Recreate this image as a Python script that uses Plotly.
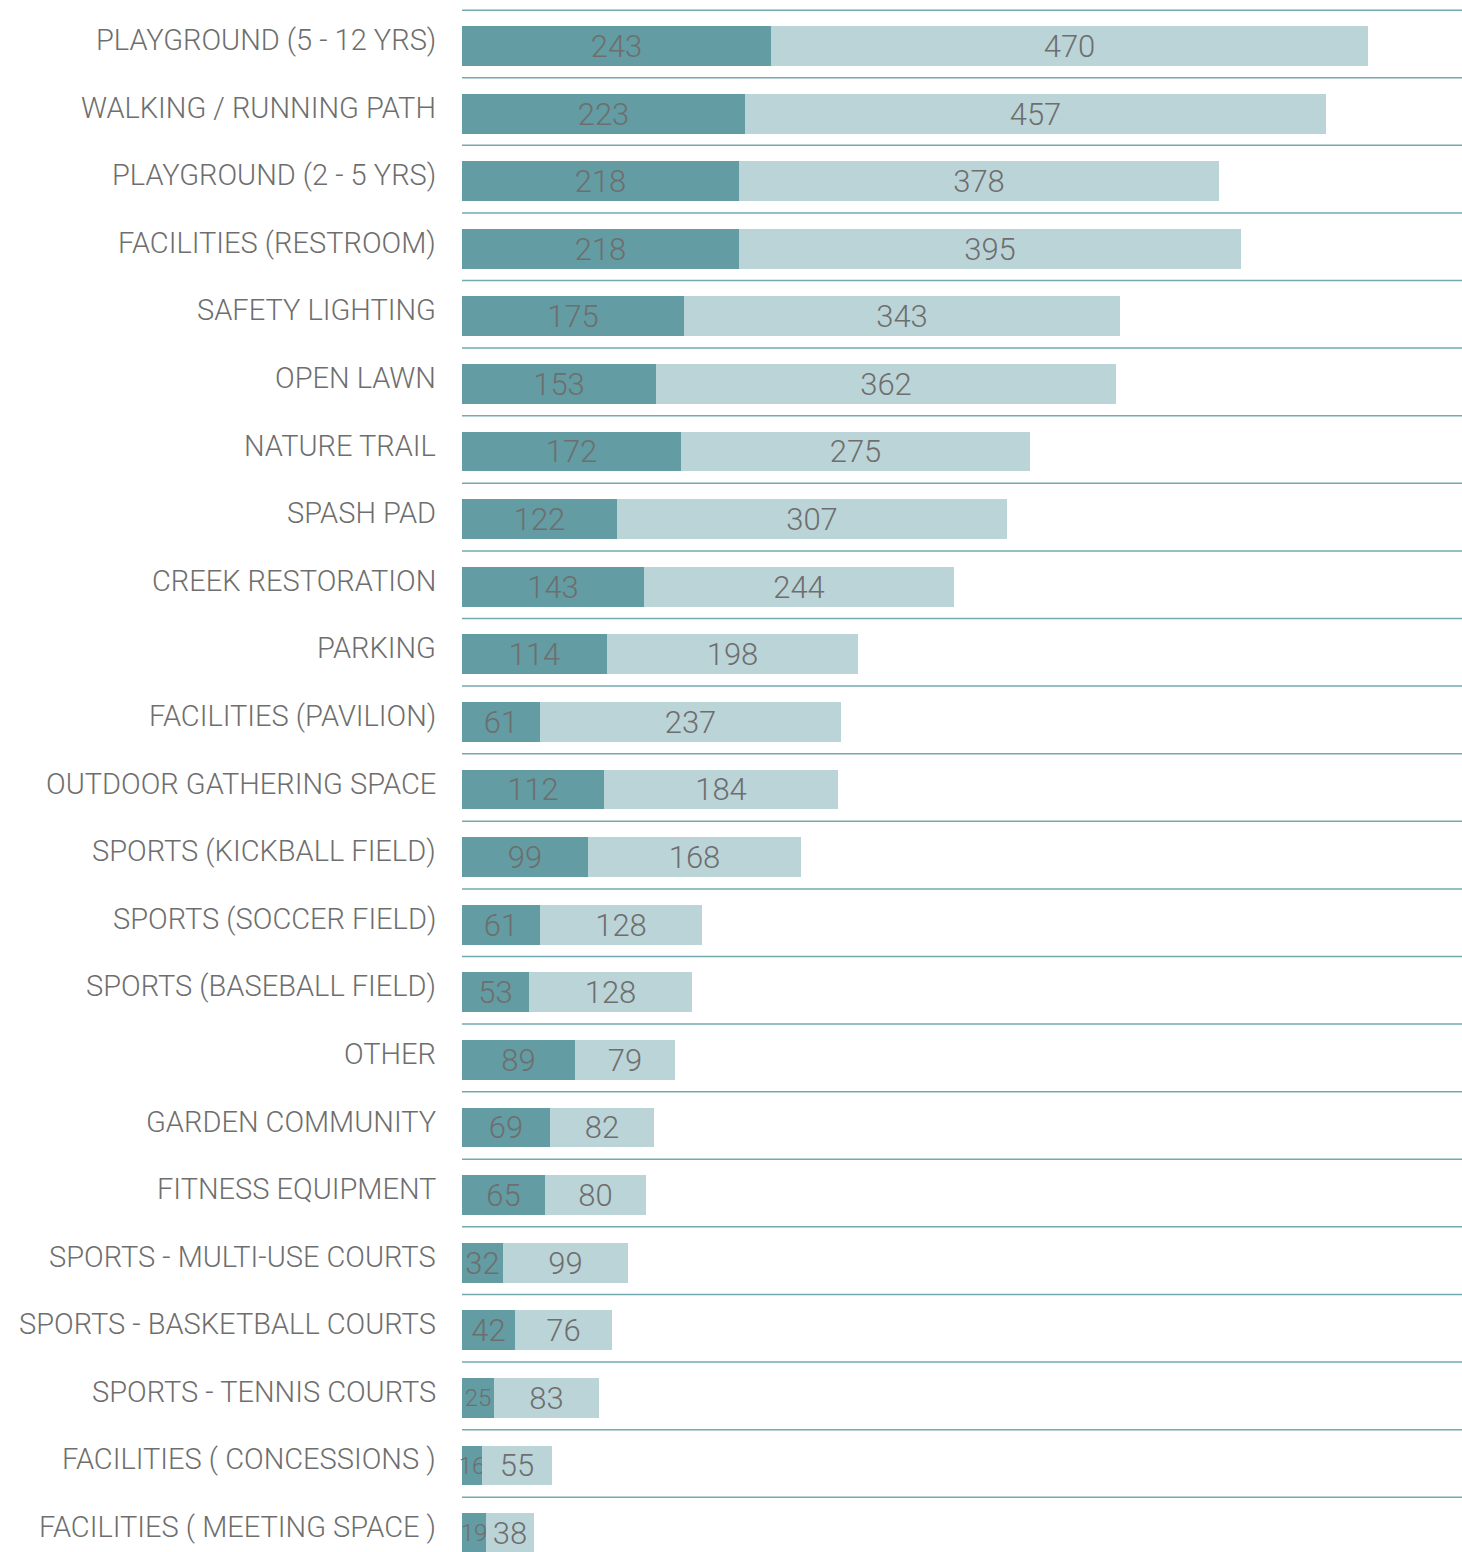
import plotly.graph_objects as go

# Amenity survey results - stacked horizontal bars
categories = [
    "PLAYGROUND (5 - 12 YRS)", "WALKING / RUNNING PATH", "PLAYGROUND (2 - 5 YRS)",
    "FACILITIES (RESTROOM)", "SAFETY LIGHTING", "OPEN LAWN", "NATURE TRAIL",
    "SPASH PAD", "CREEK RESTORATION", "PARKING", "FACILITIES (PAVILION)",
    "OUTDOOR GATHERING SPACE", "SPORTS (KICKBALL FIELD)", "SPORTS (SOCCER FIELD)",
    "SPORTS (BASEBALL FIELD)", "OTHER", "GARDEN COMMUNITY", "FITNESS EQUIPMENT",
    "SPORTS - MULTI-USE COURTS", "SPORTS - BASKETBALL COURTS", "SPORTS - TENNIS COURTS",
    "FACILITIES ( CONCESSIONS )", "FACILITIES ( MEETING SPACE )",
]
first_choice = [243, 223, 218, 218, 175, 153, 172, 122, 143, 114, 61, 112,
                99, 61, 53, 89, 69, 65, 32, 42, 25, 16, 19]
second_choice = [470, 457, 378, 395, 343, 362, 275, 307, 244, 198, 237, 184,
                 168, 128, 128, 79, 82, 80, 99, 76, 83, 55, 38]

DARK = "#639ca3"
LIGHT = "#bbd4d8"
TEXT = "#6e6e6e"
LINE = "#72aab0"
FONT = "Roboto"

rows = list(range(len(categories)))

fig = go.Figure()
for vals, col in [(first_choice, DARK), (second_choice, LIGHT)]:
    # tiny segments get a smaller label that may spill past the bar edge
    sizes = [31 if v >= 30 else 24 for v in vals]
    fig.add_trace(go.Bar(
        y=rows, x=vals, orientation="h", width=0.59,
        marker=dict(color=col, line=dict(width=0)),
        text=vals, textposition="inside", insidetextanchor="middle", textangle=0,
        constraintext="none", cliponaxis=False,
        textfont=dict(family=FONT, size=sizes, color=TEXT, weight=300),
        hoverinfo="skip", showlegend=False,
    ))

# row separators and left labels
for i, name in enumerate(categories):
    fig.add_shape(type="line", xref="paper", x0=0, x1=1, y0=i - 0.53, y1=i - 0.53,
                  line=dict(color=LINE, width=1.5), layer="below")
    fig.add_annotation(text=name, xref="paper", x=0, y=i, xanchor="right",
                       yanchor="middle", xshift=-24, yshift=6, showarrow=False,
                       font=dict(family=FONT, size=29, color=TEXT, weight=300))

fig.update_layout(
    width=1462, height=1552,
    margin=dict(l=462, r=0, t=0, b=0),
    barmode="stack", bargap=0,
    plot_bgcolor="white", paper_bgcolor="white",
    xaxis=dict(range=[0, 787], visible=False, fixedrange=True),
    yaxis=dict(range=[22.28, -0.68], visible=False, fixedrange=True),
)

# drop the default page margin so the figure sits at the window corner
fig.write_html("out.html", config={"displayModeBar": False},
               post_script="document.body.style.margin='0';")
